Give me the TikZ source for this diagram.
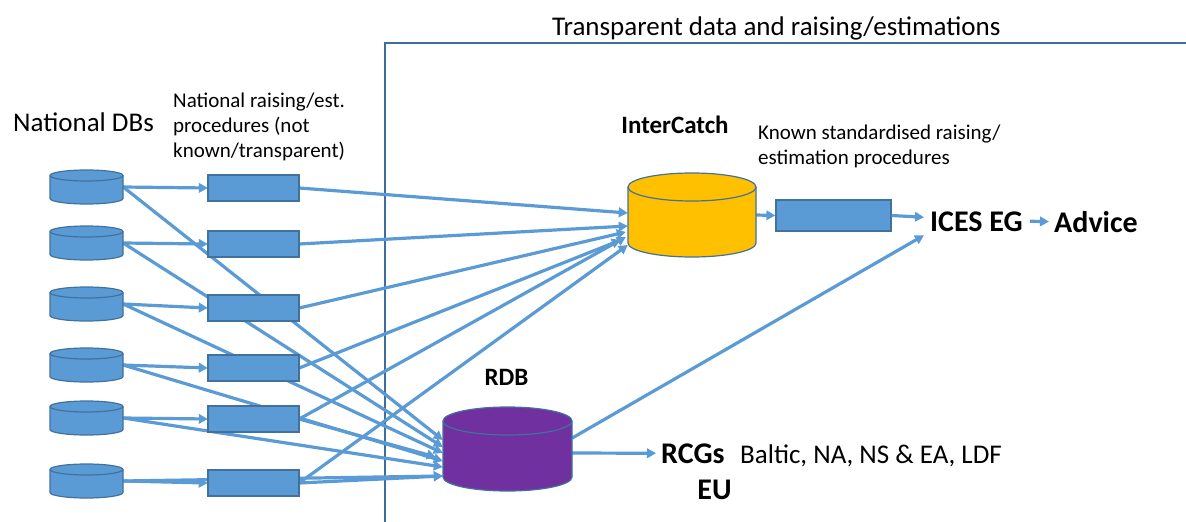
\documentclass[tikz,border=0pt]{standalone}
\usepackage{fontspec}
\setmainfont{Carlito}
\usetikzlibrary{arrows.meta}
\definecolor{fillblue}{HTML}{5B9BD5}
\definecolor{edgeblue}{HTML}{41719C}
\definecolor{lineblue}{HTML}{5B9BD5}
\definecolor{framecol}{HTML}{3F6E9E}
\definecolor{icyellow}{HTML}{FFC000}
\definecolor{rdbpurple}{HTML}{7030A0}
\newcommand\dbcyl[7]{%
  \node[inner sep=0pt, minimum width={2*#4*1pt}, minimum height={2*#5*1pt}] (#1) at (#2,-#3) {};
  \filldraw[draw=edgeblue, line width=1.2pt, fill=#7] ({#2-#4},{-#3+#5-#6}) -- ({#2-#4},{-#3-#5+#6})
    arc[start angle=180,end angle=360,x radius=#4,y radius=#6] -- ({#2+#4},{-#3+#5-#6})
    arc[start angle=0,end angle=180,x radius=#4,y radius=#6] -- cycle;
  \draw[draw=edgeblue, line width=1.2pt] ({#2-#4},{-#3+#5-#6}) arc[start angle=180,end angle=360,x radius=#4,y radius=#6];
}
\tikzset{
  procbox/.style={draw=edgeblue, line width=1.2pt, fill=fillblue, minimum width=91pt, minimum height=26pt, inner sep=0pt},
  holder/.style={inner sep=0pt},
  conn/.style={draw=lineblue, line width=3.2pt, -{Triangle[length=9pt,width=9.5pt]}},
  frame/.style={draw=framecol, line width=2.2pt},
  lbl/.style={inner sep=0pt, font=\fontsize{27}{30}\selectfont},
  small/.style={inner sep=0pt, align=left, font=\fontsize{21}{25}\selectfont},
  blbl/.style={inner sep=0pt, font=\bfseries\fontsize{25}{28}\selectfont},
  big/.style={inner sep=0pt, font=\bfseries\fontsize{30}{32}\selectfont},
}
\begin{document}
\begin{tikzpicture}[x=1pt,y=1pt]
\useasboundingbox (0,0) rectangle (1186,-522);
% frame
\draw[frame] (385,-522) -- (385,-43) -- (1186,-43);
\node[lbl, anchor=base west] (title) at (552,-35) {Transparent data and raising/estimations};
% placement holders
\path (86.5,-187) node[holder, minimum width=73pt,minimum height=34pt] (c1) {};
\path (86.5,-243) node[holder, minimum width=73pt,minimum height=34pt] (c2) {};
\path (86.5,-304) node[holder, minimum width=73pt,minimum height=34pt] (c3) {};
\path (86.5,-365) node[holder, minimum width=73pt,minimum height=34pt] (c4) {};
\path (86.5,-418) node[holder, minimum width=73pt,minimum height=34pt] (c5) {};
\path (86.5,-481) node[holder, minimum width=73pt,minimum height=34pt] (c6) {};
\path (692,-215) node[holder, minimum width=128pt,minimum height=84pt] (ic) {};
\path (507.5,-449) node[holder, minimum width=129pt,minimum height=84pt] (rdb) {};
\path (253.5,-188) node[holder, minimum width=91pt, minimum height=26pt] (r1) {};
\path (253.5,-244) node[holder, minimum width=91pt, minimum height=26pt] (r2) {};
\path (253.5,-308) node[holder, minimum width=91pt, minimum height=26pt] (r3) {};
\path (253.5,-368) node[holder, minimum width=91pt, minimum height=26pt] (r4) {};
\path (253.5,-419) node[holder, minimum width=91pt, minimum height=26pt] (r5) {};
\path (253.5,-483) node[holder, minimum width=91pt, minimum height=26pt] (r6) {};
\node[procbox, minimum width=115pt, minimum height=31pt] (r7) at (833.5,-215.5) {};
% text
\node[lbl, anchor=base west] (natdb) at (13,-131) {National DBs};
\node[small, anchor=north west] (natproc) at (173,-93) {National raising/est.\\procedures (not\\known/transparent)};
\node[blbl, anchor=base] (iclbl) at (675,-133) {InterCatch};
\node[small, anchor=north west] (known) at (758,-125) {Known standardised raising/\\estimation procedures};
\node[big, anchor=base west] (ices) at (930,-231) {ICES EG};
\node[big, anchor=base west] (advice) at (1054,-232) {Advice};
\node[blbl, anchor=base] (rdblbl) at (506.5,-385) {RDB};
\node[big, anchor=base west] (rcgs) at (661,-463) {RCGs};
\node[big, anchor=base] (eu) at (714.5,-499) {EU};
\node[lbl, anchor=base west] (baltic) at (740,-463) {Baltic, NA, NS \& EA, LDF};
% connectors
\draw[conn] (c1.east) -- (r1.west);
\draw[conn] (c2.east) -- (r2.west);
\draw[conn] (c3.east) -- (r3.west);
\draw[conn] (c4.east) -- (r4.west);
\draw[conn] (c5.east) -- (r5.west);
\draw[conn] (c6.east) -- (r6.west);
\draw[conn] (c1.east) -- ([yshift=9pt]rdb.west);
\draw[conn] (c2.east) -- ([yshift=2pt]rdb.west);
\draw[conn] (c3.east) -- ([yshift=-4pt]rdb.west);
\draw[conn] (c4.east) -- ([yshift=-12pt]rdb.west);
\draw[conn] (c5.east) -- ([yshift=-18pt]rdb.west);
\draw[conn] (c6.east) -- ([yshift=-27pt]rdb.west);
\draw[conn] (r5.east) -- ([xshift=-7pt,yshift=-8pt]rdb.west);
\draw[conn] (r6.east) -- ([yshift=-27pt]rdb.west);
\draw[conn] (r1.east) -- ([yshift=2pt]ic.west);
\draw[conn] (r2.east) -- ([yshift=-11pt]ic.west);
\draw[conn] (r3.east) -- ([xshift=-2pt,yshift=-17pt]ic.west);
\draw[conn] (r4.east) -- ([xshift=-7pt,yshift=-25pt]ic.west);
\draw[conn] (r5.east) -- ([xshift=-2pt,yshift=-22pt]ic.west);
\draw[conn] (r6.east) -- ([yshift=-30pt]ic.west);
\draw[conn] (ic.east) -- (r7.west);
\draw[conn] (r7.east) -- ([xshift=-6pt,yshift=4pt]ices.west);
\draw[conn] ([yshift=11pt]rdb.east) -- ([xshift=-6pt,yshift=-14pt]ices.west);
\draw[conn] ([yshift=-4pt]rdb.east) -- ([xshift=-5pt]rcgs.west);
\draw[conn] ([xshift=7pt]ices.east) -- ([xshift=-5pt]advice.west);
% shapes on top
\foreach \n in {1,...,6}{\node[procbox] at (r\n) {};}
\dbcyl{c1d}{86.5}{187}{36.5}{17}{5.5}{fillblue}
\dbcyl{c2d}{86.5}{243}{36.5}{17}{5.5}{fillblue}
\dbcyl{c3d}{86.5}{304}{36.5}{17}{5.5}{fillblue}
\dbcyl{c4d}{86.5}{365}{36.5}{17}{5.5}{fillblue}
\dbcyl{c5d}{86.5}{418}{36.5}{17}{5.5}{fillblue}
\dbcyl{c6d}{86.5}{481}{36.5}{17}{5.5}{fillblue}
\dbcyl{icd}{692}{215}{64}{42}{14}{icyellow}
\dbcyl{rdbd}{507.5}{449}{64.5}{42}{14}{rdbpurple}
\end{tikzpicture}
\end{document}
